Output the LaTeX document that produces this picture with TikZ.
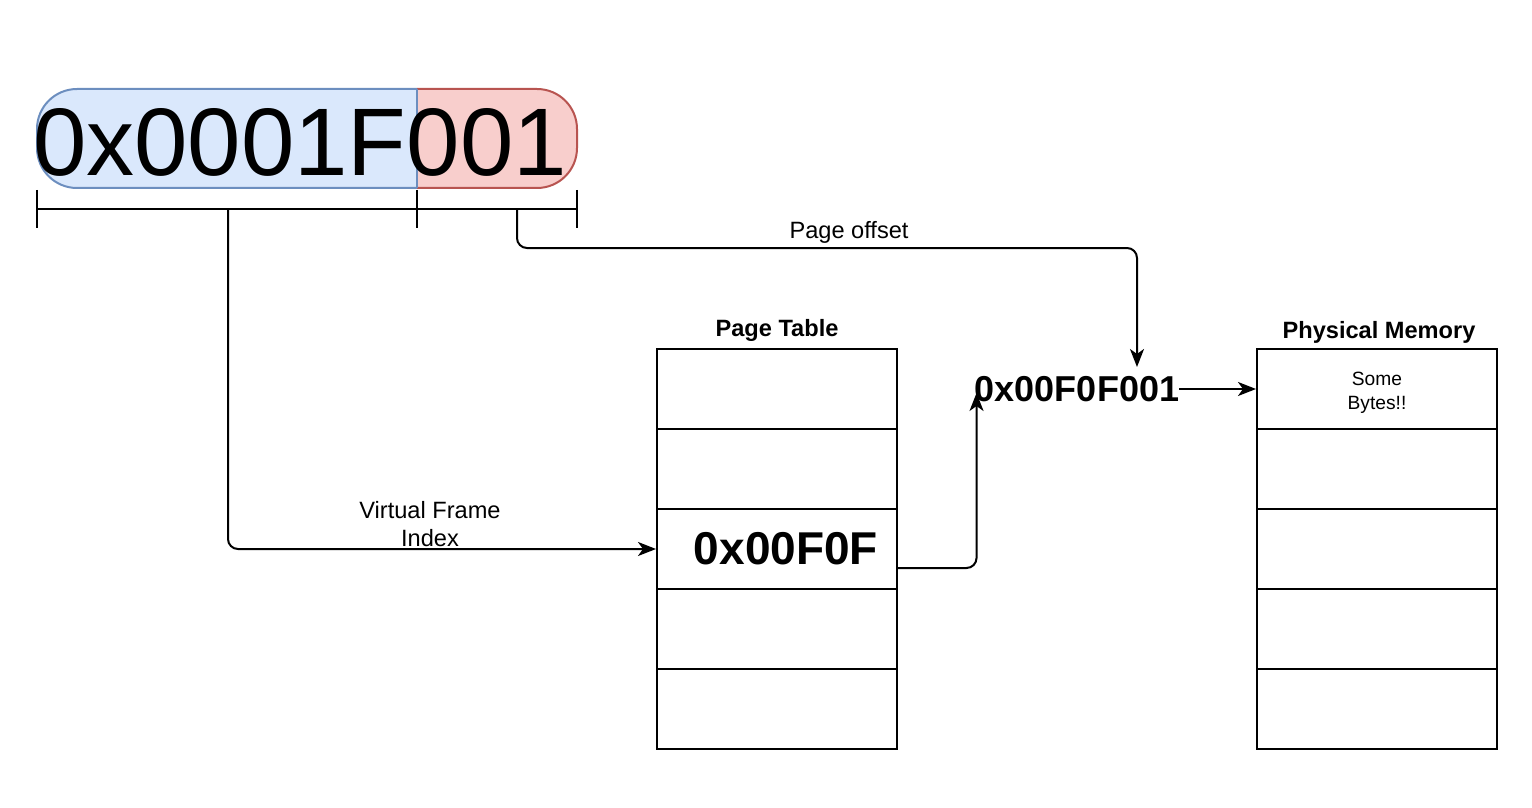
\documentclass[tikz,border=0pt]{standalone}
\usepackage{fontspec}
\setmainfont{Liberation Sans}
\usepackage{xcolor}
\usepackage{tikz}
\usetikzlibrary{arrows.meta,calc}
\definecolor{vpnfill}{HTML}{DAE8FC}
\definecolor{vpnline}{HTML}{6C8EBF}
\definecolor{offfill}{HTML}{F8CECC}
\definecolor{offline}{HTML}{B85450}

\begin{document}
\begin{tikzpicture}[x=0.5pt, y=-0.5pt,
        cell/.style={draw, line width=1pt, minimum width=120pt, minimum height=40pt, inner sep=0pt},
        conn/.style={line width=1pt, rounded corners=5pt, -{Stealth[length=9pt, width=7pt, inset=2.5pt]}},
        tick/.style={line width=1pt},
        title/.style={font=\bfseries\fontsize{11.8}{14}\selectfont},
        lbl/.style={font=\fontsize{11.8}{14}\selectfont, align=center}]
    \useasboundingbox (0,0) rectangle (1532,808);

    % virtual address
    \begin{scope}
        \clip (417,70) rectangle (600,210);
        \draw[offline, fill=offfill, line width=1pt, rounded corners=20pt] (337,89) rectangle (577,188);
    \end{scope}
    \begin{scope}
        \clip (20,70) rectangle (417,210);
        \draw[vpnline, fill=vpnfill, line width=1pt, rounded corners=20pt] (37,89) rectangle (497,188);
    \end{scope}
    \draw[vpnline, line width=1pt] (417,89) -- (417,188);
    \node[font=\fontsize{48}{56}\selectfont, inner sep=0pt] (vaddr) at (300,142) {0x0001F001};

    \draw[tick] (37,209) -- (577,209);
    \foreach \x in {37,417,577}
        \draw[tick] (\x,190) -- (\x,228);
    \coordinate (vfi) at (228,209);
    \coordinate (pgo) at (517,209);

    % tables
    \foreach \i in {1,...,5} {
        \node[cell] (pt\i) at (777,{309+80*\i}) {};
        \node[cell] (pm\i) at (1377,{309+80*\i}) {};
    }
    \node[title] (pttitle) at (777,330) {Page Table};
    \node[title] (pmtitle) at (1379,332) {Physical Memory};
    \node[font=\bfseries\fontsize{23}{28}\selectfont, inner sep=0pt] (ptval) at ($(pt3)+(9,0)$) {0x00F0F};
    \node[lbl, font=\fontsize{9.6}{12}\selectfont] (bytes) at ($(pm1)+(0,4)$) {Some\\Bytes!!};

    \node[font=\bfseries\fontsize{18}{22}\selectfont, inner sep=0pt] (pa) at (1077,389) {0x00F0F001};
    \coordinate (pain) at (1137,367);

    % connectors
    \draw[conn] (vfi) |- (pt3.west);
    \node[lbl] (vfilbl) at (430,524) {Virtual Frame\\Index};
    \draw[conn] (pgo) -- ++(0,39) -| (pain);
    \node[lbl] (pgolbl) at (849,232) {Page offset};
    \draw[conn] ($(pt3.east)+(0,19)$) -| ($(pa.west)+(2,4)$);
    \draw[conn] (pa.east) -- (pm1.west);
\end{tikzpicture}
\end{document}
